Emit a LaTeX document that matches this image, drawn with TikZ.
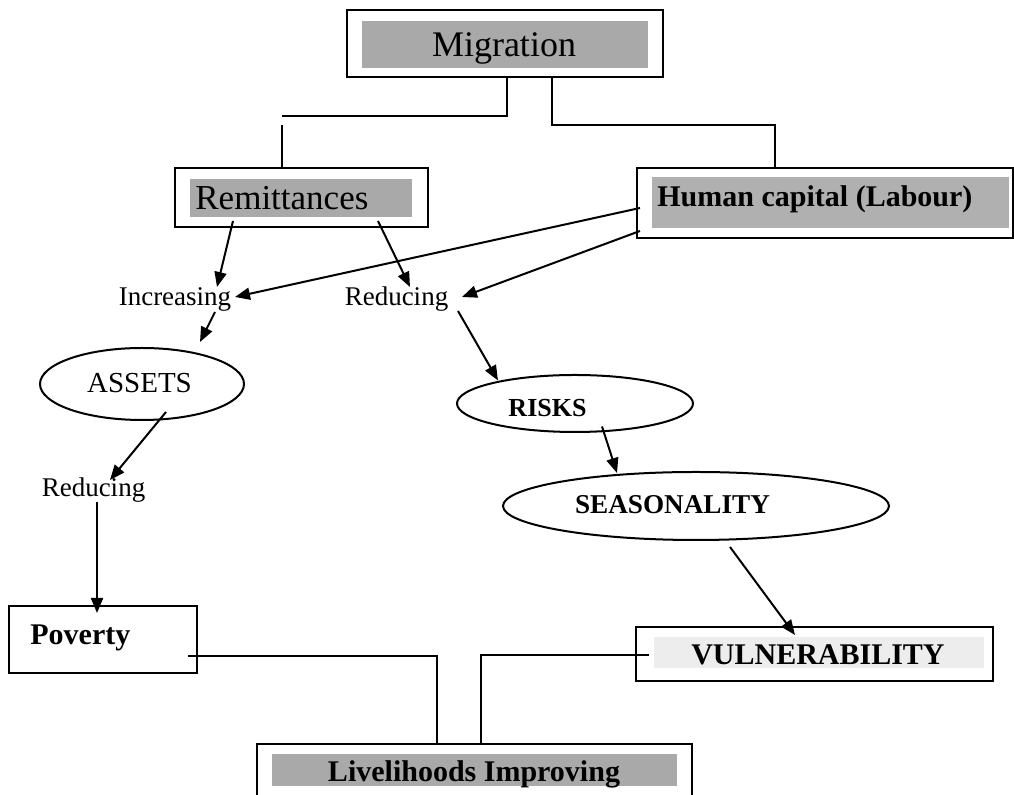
\documentclass[tikz,border=0pt]{standalone}
\usepackage{fontspec}
\setmainfont{Liberation Serif}
\usetikzlibrary{arrows.meta,shapes.geometric}
\definecolor{boxgray}{HTML}{A9A9A9}
\definecolor{hcgray}{HTML}{B0B0B0}
\definecolor{lightgray}{HTML}{EDEDED}
\tikzset{
  outerbox/.style={draw, line width=1.2pt, rectangle, inner sep=0pt},
  oval/.style={draw, line width=1pt, ellipse, inner sep=0pt},
  lbl/.style={inner sep=0pt},
  conn/.style={line width=1pt},
  arr/.style={line width=1pt, -{Triangle[length=7.5pt,width=6pt]}},
}
\begin{document}
\begin{tikzpicture}[x=0.5pt,y=-0.5pt]
\useasboundingbox (0,0) rectangle (1014,795);
\clip (0,0) rectangle (1014,795);

% boxes
\node[outerbox, minimum width=158pt, minimum height=33.5pt] (mig) at (505,43.5) {};
\fill[boxgray] ([shift={(16,12)}]mig.north west) rectangle ([shift={(-16,-10)}]mig.south east);
\node[lbl, anchor=base, font=\fontsize{18pt}{20pt}\selectfont] (migt) at (504,57) {Migration};

\node[outerbox, minimum width=126.5pt, minimum height=29.5pt] (rem) at (301.5,197.5) {};
\fill[boxgray] ([shift={(16,12)}]rem.north west) rectangle ([shift={(-17,-11)}]rem.south east);
\node[lbl, anchor=base west, font=\fontsize{17.5pt}{20pt}\selectfont] (remt) at (195,210) {Remittances};

\node[outerbox, minimum width=188pt, minimum height=35pt] (hc) at (825,203) {};
\fill[hcgray] ([shift={(16,10)}]hc.north west) rectangle ([shift={(-5,-11)}]hc.south east);
\node[lbl, anchor=base west, font=\fontsize{15pt}{18pt}\selectfont\bfseries] (hct) at (657,207) {Human capital (Labour)};

\node[lbl, anchor=base, font=\fontsize{13.5pt}{16pt}\selectfont] (inc) at (175,306) {Increasing};
\node[lbl, anchor=base, font=\fontsize{13.5pt}{16pt}\selectfont] (red) at (396.5,306) {Reducing};

\node[oval, minimum width=102pt, minimum height=36pt] (assets) at (142,384) {};
\node[lbl, anchor=base, font=\fontsize{14.5pt}{16pt}\selectfont] (assetst) at (139.5,393) {ASSETS};

\node[lbl, anchor=base, font=\fontsize{13.5pt}{16pt}\selectfont] (red2) at (93.5,497) {Reducing};

\node[oval, minimum width=118pt, minimum height=28.5pt] (risks) at (575,403.5) {};
\node[lbl, anchor=base, font=\fontsize{13pt}{16pt}\selectfont\bfseries] (riskst) at (547.5,417) {RISKS};

\node[oval, minimum width=193pt, minimum height=34pt] (seas) at (696,506) {};
\node[lbl, anchor=base, font=\fontsize{13.6pt}{16pt}\selectfont\bfseries] (seast) at (672.5,514) {SEASONALITY};

\node[outerbox, minimum width=94pt, minimum height=33.5pt] (pov) at (103,639.5) {};
\node[lbl, anchor=base west, font=\fontsize{15pt}{18pt}\selectfont\bfseries] (povt) at (30,645) {Poverty};

\node[outerbox, minimum width=178.5pt, minimum height=27pt] (vul) at (814.5,654) {};
\fill[lightgray] ([shift={(19,11)}]vul.north west) rectangle ([shift={(-10,-14)}]vul.south east);
\node[lbl, anchor=base, font=\fontsize{15pt}{18pt}\selectfont\bfseries] (vult) at (818,665) {VULNERABILITY};

\node[outerbox, minimum width=217.5pt, minimum height=45pt] (liv) at (474.5,789) {};
\fill[boxgray] ([shift={(16,11)}]liv.north west) rectangle ([shift={(-16,43)}]liv.north east);
\node[lbl, anchor=base, font=\fontsize{15pt}{18pt}\selectfont\bfseries] (livt) at (474,782) {Livelihoods Improving};

% connectors from Migration
\draw[conn] ([shift={(2,0)}]mig.south) |- ([shift={(-20,-51)}]rem.north);
\draw[conn] ([shift={(-20,-42)}]rem.north) -- ([shift={(-20,0)}]rem.north);
\draw[conn] ([shift={(47,0)}]mig.south) |- ([shift={(-50,-42)}]hc.north) -- ([shift={(-50,0)}]hc.north);

% arrows
\draw[arr] ([shift={(-68.5,23.5)}]rem.center) -- ([shift={(42,-19)}]inc.base);
\draw[arr] ([shift={(76.5,23.5)}]rem.center) -- ([shift={(13.5,-19)}]red.base);
\draw[arr] ([shift={(-185,5)}]hc.center) -- ([shift={(60,-9)}]inc.base);
\draw[arr] ([shift={(-185,28)}]hc.center) -- ([shift={(65.5,-9)}]red.base);
\draw[arr] ([shift={(40,6)}]inc.base) -- ([shift={(58,-42)}]assets.center);
\draw[arr] ([shift={(24,28)}]assets.center) -- ([shift={(16.5,-17)}]red2.base);
\draw[arr] ([shift={(3.5,5)}]red2.base) -- ([shift={(-6,-26.5)}]pov.center);
\draw[arr] ([shift={(61.5,5)}]red.base) -- ([shift={(-77,-23)}]risks.center);
\draw[arr] ([shift={(27,23)}]risks.center) -- ([shift={(-79,-33)}]seas.center);
\draw[arr] ([shift={(34,41)}]seas.center) -- ([shift={(-19.5,-19)}]vul.center);

% connectors to Livelihoods
\draw[conn] ([shift={(85,16.5)}]pov.center) -| ([shift={(-37.5,0)}]liv.north);
\draw[conn] ([shift={(-165.5,1)}]vul.center) -| ([shift={(6.5,0)}]liv.north);
\end{tikzpicture}
\end{document}
